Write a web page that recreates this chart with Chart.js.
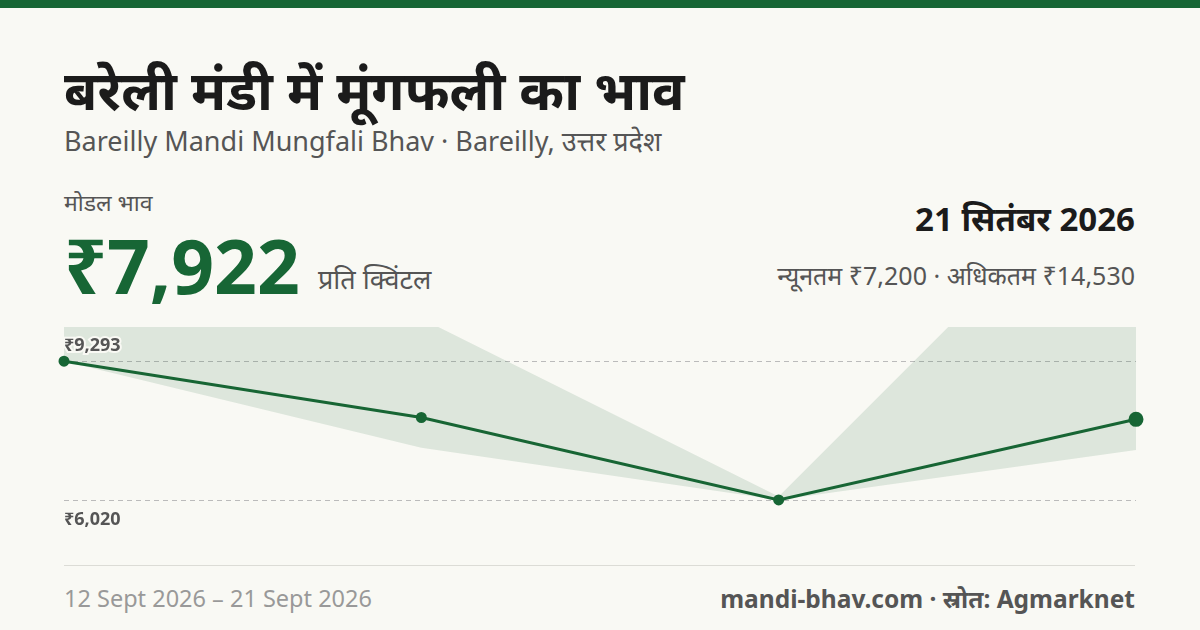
<!DOCTYPE html>
<html><head><meta charset="utf-8">
<script src="https://cdn.jsdelivr.net/npm/chart.js@4"></script>
<style>
body{margin:0;width:1200px;height:630px;background:#f9f9f4;font-family:"Noto Sans",sans-serif;position:relative;overflow:hidden}
.bar{position:absolute;left:0;top:0;width:1200px;height:8px;background:#176635}
.t{position:absolute;white-space:nowrap}
</style></head><body>
<div class="bar"></div>
<div class="t" style="left:64px;top:52px;font-size:54px;font-weight:700;color:#1b1b1b">बरेली मंडी में मूंगफली का भाव</div>
<div class="t" style="left:64px;top:122px;font-size:27px;color:#555">Bareilly Mandi Mungfali Bhav · Bareilly, उत्तर प्रदेश</div>
<div class="t" style="left:64px;top:186px;font-size:23px;color:#555">मोडल भाव</div>
<div class="t" style="left:64px;top:220px;font-size:75px;font-weight:700;color:#176635;line-height:90px">₹7,922</div>
<div class="t" style="left:318px;top:260px;font-size:27px;color:#555">प्रति क्विंटल</div>
<div class="t" style="right:65px;top:196px;font-size:33px;font-weight:700;color:#1b1b1b">21 सितंबर 2026</div>
<div class="t" style="right:65px;top:258px;font-size:25px;color:#555">न्यूनतम ₹7,200 · अधिकतम ₹14,530</div>
<div style="position:absolute;left:54px;top:317px;width:1092px;height:214px"><canvas id="c"></canvas></div>
<div style="position:absolute;left:64px;top:565px;width:1071px;height:1px;background:#dcdcd6"></div>
<div class="t" style="left:64px;top:582px;font-size:23.5px;color:#999">12 Sept 2026 – 21 Sept 2026</div>
<div class="t" style="right:65px;top:582px;font-size:24.5px;font-weight:700;color:#555">mandi-bhav.com · स्रोत: Agmarknet</div>
<script>
const dates=["12 Sept","15 Sept","18 Sept","21 Sept"];
const modal=[9293,7965,6020,7922];
const minP=[9293,7250,6020,7200];
const maxP=[10600,10300,6100,14530];
const tickValues=[6020,9293];
const tickLabels=["₹6,020","₹9,293"];
const green="#176635";
const guide={id:"guide",beforeDatasetsDraw(ch){const c=ch.ctx,a=ch.chartArea,y=ch.scales.y;c.save();c.setLineDash([5,4]);c.strokeStyle="#bbb";c.lineWidth=1;
tickValues.forEach(v=>{const p=Math.round(y.getPixelForValue(v))+.5;c.beginPath();c.moveTo(a.left,p);c.lineTo(a.right,p);c.stroke();});c.restore();},
afterDatasetsDraw(ch){const c=ch.ctx,a=ch.chartArea,y=ch.scales.y;c.save();c.font='bold 18px "Noto Sans"';c.fillStyle="#555";c.textAlign="left";
tickValues.forEach((v,i)=>{const p=y.getPixelForValue(v);const hi=v===Math.max(...tickValues);c.textBaseline=hi?"bottom":"top";
if(hi){c.lineWidth=4;c.strokeStyle="#f9f9f4";c.strokeText(tickLabels[i],a.left,p-6);}c.fillText(tickLabels[i],a.left,hi?p-6:p+11);});c.restore();}};
new Chart(document.getElementById("c"),{type:"line",
data:{labels:dates,datasets:[
{data:maxP,borderWidth:0,pointRadius:0,fill:"+1",backgroundColor:"rgba(23,102,53,0.12)"},
{data:minP,borderWidth:0,pointRadius:0,fill:false},
{data:modal,borderColor:green,borderWidth:3,backgroundColor:green,pointRadius:[4,4,4,6],pointHoverRadius:0,clip:false,tension:0}]},
options:{responsive:true,maintainAspectRatio:false,animation:false,layout:{padding:{left:10,right:10,top:10,bottom:0}},
plugins:{legend:{display:false},tooltip:{enabled:false}},
scales:{x:{display:false},y:{display:false,min:5500,max:10100}}},plugins:[guide]});
</script></body></html>
